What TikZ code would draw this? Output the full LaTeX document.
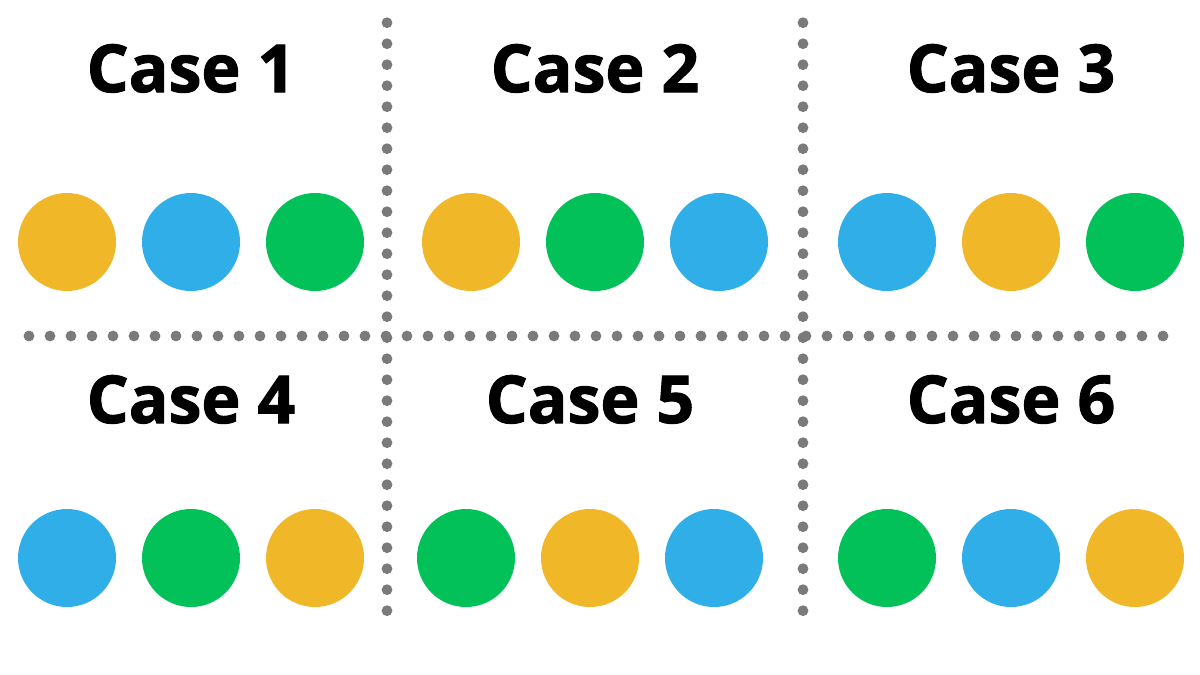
\documentclass[tikz,border=0pt]{standalone}
\usepackage{fontspec}
\setmainfont{Open Sans}[BoldFeatures={FakeBold=1.6}]
\usepackage{tikz}
\usetikzlibrary{positioning}

\begin{document}
\begin{tikzpicture}[x=0.5pt,y=-0.5pt]
	\definecolor{byellow}{RGB}{240,183,40}
	\definecolor{bblue}{RGB}{47,174,232}
	\definecolor{bgreen}{RGB}{3,193,89}
	\definecolor{dotgray}{RGB}{122,122,122}
	\tikzset{
		ball/.style={
			circle,
			fill=#1,
			minimum size=49pt,
			inner sep=0pt
		},
		casetitle/.style={
			anchor=base,
			font=\fontsize{33}{36}\selectfont\bfseries
		},
		dotline/.style={
			draw=dotgray,
			line width=5.4pt,
			line cap=round,
			dash pattern=on 0pt off 10.5pt
		}
	}
	\useasboundingbox (0,0) rectangle (1200,675);
	
	% ======= dotted separators =======
	\coordinate (v1top) at (387,22.7);
	\coordinate (v1bot) at (387,612);
	\coordinate (v2top) at (803,22.7);
	\coordinate (v2bot) at (803,612);
	\coordinate (hleft) at (29,336);
	\coordinate (hright) at (1170,336);
	\draw[dotline] (v1top) -- (v1bot);
	\draw[dotline] (v2top) -- (v2bot);
	\draw[dotline] (hleft) -- (hright);
	
	% ======= cases: number / x of first ball / y / colours =======
	\foreach \n/\cx/\cy/\ty/\ca/\cb/\cc in {
		1/67/242/92/byellow/bblue/bgreen,
		2/471/242/92/byellow/bgreen/bblue,
		3/887/242/92/bblue/byellow/bgreen,
		4/67/558/423/bblue/bgreen/byellow,
		5/466/558/423/bgreen/byellow/bblue,
		6/887/558/423/bgreen/bblue/byellow}{
		\node[ball=\ca] (b\n-1) at (\cx,\cy) {};
		\node[ball=\cb] (b\n-2) at (\cx+124,\cy) {};
		\node[ball=\cc] (b\n-3) at (\cx+248,\cy) {};
		\node[casetitle] (case\n) at (\cx+124,\ty) {Case \n};
	}
\end{tikzpicture}
\end{document}
